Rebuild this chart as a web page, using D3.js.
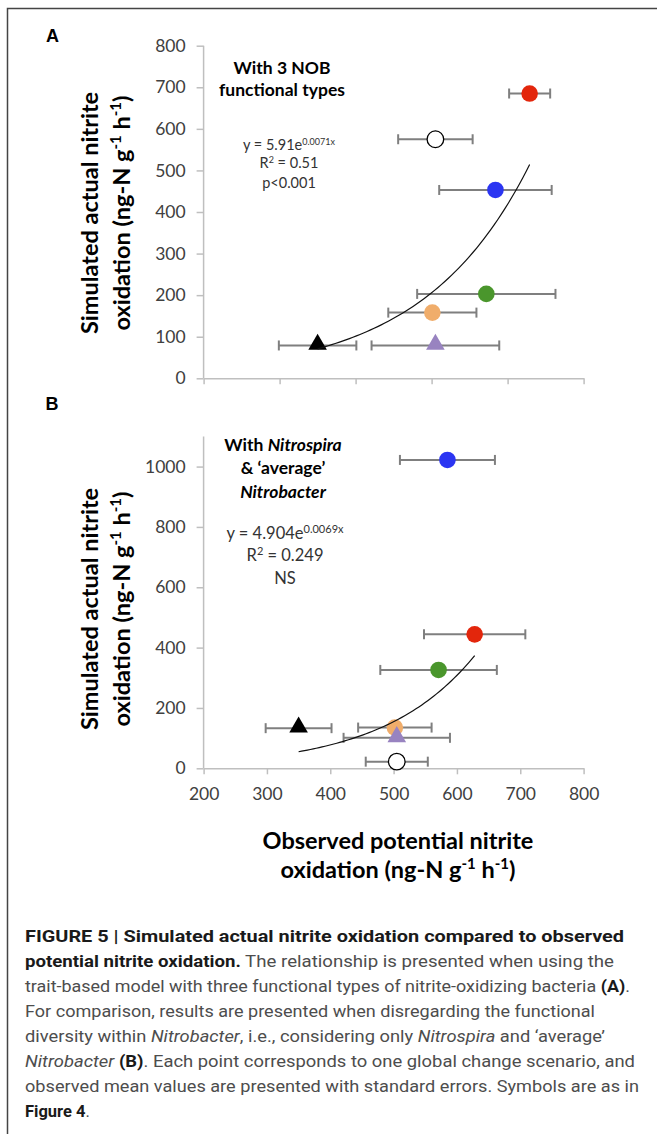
<!DOCTYPE html>
<html>
<head>
<meta charset="utf-8">
<script src="https://cdn.jsdelivr.net/npm/d3@7"></script>
<style>
  body { margin: 0; background: #fff; }
  svg { display: block; }
  .tick text { font-family: Lato, sans-serif; font-size: 17.5px; fill: #404040; }
</style>
</head>
<body>
<svg id="fig" width="657" height="1134"></svg>
<script>
// scenario symbols (same order in both panels)
const fills = ["#e3260c", "#ffffff", "#2b35f2", "#4a962c", "#f0ad6b", "#000000", "#9883c0"];
const shapes = ["circle", "circle", "circle", "circle", "circle", "triangle", "triangle"];

// panel A: three NOB functional types
const obsA = [629, 505, 584, 572, 501, 350, 505];
const errA = [27, 49, 74, 91, 58, 51, 84];
const simA = [685, 575, 453, 203, 158, 79, 79];
const fitA = [5.91, 0.0071];
const ticksYA = [0, 100, 200, 300, 400, 500, 600, 700, 800];
const ticksXA = [200, 300, 400, 500, 600, 700];

// panel B: Nitrospira & average Nitrobacter
const obsB = [628, 505, 585, 571, 502, 350, 505];
const errB = [80, 49, 75, 92, 58, 52, 84];
const simB = [444, 22, 1022, 326, 135, 133, 101];
const fitB = [4.904, 0.0069];
const ticksYB = [0, 200, 400, 600, 800, 1000];
const ticksXB = [200, 300, 400, 500, 600, 700, 800];

const svg = d3.select("#fig");

// frame
svg.append("path")
    .attr("d", "M7.5,1134 V8.5 H657")
    .attr("fill", "none")
    .attr("stroke", "#444")
    .attr("stroke-width", 1.5);

function panel(opt) {
    const x = d3.scaleLinear().domain(opt.xDomain).range([203.6, 583.6]);
    const y = d3.scaleLinear().domain(opt.yDomain).range(opt.yRange);
    const g = svg.append("g");

    const ya = g.append("g")
        .attr("transform", "translate(" + x.range()[0] + ",0)")
        .call(d3.axisLeft(y).tickValues(opt.ticksY).tickSize(7).tickPadding(11).tickSizeOuter(0)
            .tickFormat(d3.format("d")));
    const xa = g.append("g")
        .attr("transform", "translate(0," + y(0) + ")")
        .call(d3.axisBottom(x).tickValues(opt.ticksX).tickSize(6).tickPadding(13).tickSizeOuter(0)
            .tickFormat(opt.xLabels ? d3.format("d") : ""));
    g.selectAll(".domain, .tick line").attr("stroke", "#bfbfbf").attr("stroke-width", 1.5);
    // y axis line reaches the top of the domain
    ya.select(".domain").attr("d", "M0," + y(opt.yDomain[1]) + "V" + y(0));

    // error bars
    const bars = g.selectAll(".err").data(opt.obs).enter().append("g")
        .attr("stroke", "#7f7f7f").attr("stroke-width", 2);
    bars.append("line")
        .attr("x1", (d, i) => x(d - opt.err[i])).attr("x2", (d, i) => x(d + opt.err[i]))
        .attr("y1", (d, i) => y(opt.sim[i])).attr("y2", (d, i) => y(opt.sim[i]));
    bars.append("line")
        .attr("x1", (d, i) => x(d - opt.err[i])).attr("x2", (d, i) => x(d - opt.err[i]))
        .attr("y1", (d, i) => y(opt.sim[i]) - 5).attr("y2", (d, i) => y(opt.sim[i]) + 5);
    bars.append("line")
        .attr("x1", (d, i) => x(d + opt.err[i])).attr("x2", (d, i) => x(d + opt.err[i]))
        .attr("y1", (d, i) => y(opt.sim[i]) - 5).attr("y2", (d, i) => y(opt.sim[i]) + 5);

    // markers
    const circ = d3.symbol().type(d3.symbolCircle).size(Math.PI * 8.3 * 8.3);
    const tri = d3.symbol().type(d3.symbolTriangle).size(150);
    g.selectAll(".pt").data(opt.obs).enter().append("path")
        .attr("transform", (d, i) => "translate(" + x(d) + "," + (y(opt.sim[i]) + (shapes[i] === "triangle" ? -1 : 0)) + ")")
        .attr("d", (d, i) => shapes[i] === "triangle" ? tri() : circ())
        .attr("fill", (d, i) => fills[i])
        .attr("stroke", (d, i) => fills[i] === "#ffffff" ? "#000" : "none")
        .attr("stroke-width", 1.3);

    // exponential trendline between lowest and highest observed value
    const x0 = d3.min(opt.obs), x1 = d3.max(opt.obs);
    const xs = d3.range(0, 61).map(k => x0 + (x1 - x0) * k / 60);
    g.append("path")
        .datum(xs)
        .attr("fill", "none")
        .attr("stroke", "#111")
        .attr("stroke-width", 1.2)
        .attr("d", d3.line().x(d => x(d)).y(d => y(opt.fit[0] * Math.exp(opt.fit[1] * d))));

    // y axis title
    const yt = g.append("text")
        .attr("transform", "translate(0," + opt.yTitleMid + ") rotate(-90)")
        .attr("text-anchor", "middle")
        .attr("font-family", "Lato, sans-serif")
        .attr("font-weight", "bold")
        .attr("font-size", 23.5)
        .attr("fill", "#000");
    yt.append("tspan").attr("x", 0).attr("y", 98).text("Simulated actual nitrite");
    const l2 = yt.append("tspan").attr("x", 0).attr("y", 129.5);
    l2.append("tspan").text("oxidation (ng-N g");
    l2.append("tspan").attr("dy", -9).attr("font-size", 15).text("-1");
    l2.append("tspan").attr("dy", 9).text(" h");
    l2.append("tspan").attr("dy", -9).attr("font-size", 15).text("-1");
    l2.append("tspan").attr("dy", 9).text(")");

    return g;
}

const gA = panel({
    xDomain: [200, 700], yDomain: [0, 800], yRange: [378.3, 45.7],
    ticksX: ticksXA, ticksY: ticksYA, xLabels: false,
    obs: obsA, err: errA, sim: simA, fit: fitA, yTitleMid: 213
});
const gB = panel({
    xDomain: [200, 800], yDomain: [0, 1100], yRange: [768.3, 436.4],
    ticksX: ticksXB, ticksY: ticksYB, xLabels: true,
    obs: obsB, err: errB, sim: simB, fit: fitB, yTitleMid: 609
});

// panel letters
svg.append("text").attr("x", 46).attr("y", 42).text("A")
    .attr("font-family", "Liberation Sans, Arial, sans-serif").attr("font-weight", "bold").attr("font-size", 18);
svg.append("text").attr("x", 45.5).attr("y", 410).text("B")
    .attr("font-family", "Liberation Sans, Arial, sans-serif").attr("font-weight", "bold").attr("font-size", 18);

// panel A annotations
const titleA = svg.append("text").attr("text-anchor", "middle")
    .attr("font-family", "Lato, sans-serif").attr("font-weight", "bold").attr("font-size", 17.5);
titleA.append("tspan").attr("x", 282).attr("y", 74).text("With 3 NOB");
titleA.append("tspan").attr("x", 282).attr("y", 96).text("functional types");

const eqA = svg.append("text").attr("text-anchor", "middle")
    .attr("font-family", "Lato, sans-serif").attr("font-size", 14.5).attr("fill", "#333");
const eqA1 = eqA.append("tspan").attr("x", 289).attr("y", 150);
eqA1.append("tspan").text("y = 5.91e");
eqA1.append("tspan").attr("dy", -5).attr("font-size", 9).text("0.0071x");
const eqA2 = eqA.append("tspan").attr("x", 289).attr("y", 168);
eqA2.append("tspan").text("R");
eqA2.append("tspan").attr("dy", -5).attr("font-size", 9).text("2");
eqA2.append("tspan").attr("dy", 5).text(" = 0.51");
eqA.append("tspan").attr("x", 289).attr("y", 188).text("p<0.001");

// panel B annotations
const titleB = svg.append("text").attr("text-anchor", "middle")
    .attr("font-family", "Lato, sans-serif").attr("font-weight", "bold").attr("font-size", 17.5);
const tb1 = titleB.append("tspan").attr("x", 283).attr("y", 451);
tb1.append("tspan").text("With ");
tb1.append("tspan").attr("font-style", "italic").text("Nitrospira");
titleB.append("tspan").attr("x", 283).attr("y", 474).text("& \u2018average\u2019");
titleB.append("tspan").attr("x", 283).attr("y", 498).attr("font-style", "italic").text("Nitrobacter");

const eqB = svg.append("text").attr("text-anchor", "middle")
    .attr("font-family", "Lato, sans-serif").attr("font-size", 16.5).attr("fill", "#333");
const eqB1 = eqB.append("tspan").attr("x", 285).attr("y", 539);
eqB1.append("tspan").text("y = 4.904e");
eqB1.append("tspan").attr("dy", -6).attr("font-size", 11).text("0.0069x");
const eqB2 = eqB.append("tspan").attr("x", 285).attr("y", 561);
eqB2.append("tspan").text("R");
eqB2.append("tspan").attr("dy", -6).attr("font-size", 11).text("2");
eqB2.append("tspan").attr("dy", 6).text(" = 0.249");
eqB.append("tspan").attr("x", 285).attr("y", 584).text("NS");

// x axis title
const xt = svg.append("text").attr("text-anchor", "middle")
    .attr("font-family", "Lato, sans-serif").attr("font-weight", "bold").attr("font-size", 23.5);
xt.append("tspan").attr("x", 398).attr("y", 849).text("Observed potential nitrite");
const xt2 = xt.append("tspan").attr("x", 398).attr("y", 878);
xt2.append("tspan").text("oxidation (ng-N g");
xt2.append("tspan").attr("dy", -9).attr("font-size", 15).text("-1");
xt2.append("tspan").attr("dy", 9).text(" h");
xt2.append("tspan").attr("dy", -9).attr("font-size", 15).text("-1");
xt2.append("tspan").attr("dy", 9).text(")");

// caption: each line is a list of [text, style] runs, with its width in the original
const captionLines = [
    [[["FIGURE 5 | Simulated actual nitrite oxidation compared to observed", "b"]], 599],
    [[["potential nitrite oxidation.", "b"], [" The relationship is presented when using the", "r"]], 589],
    [[["trait-based model with three functional types of nitrite-oxidizing bacteria ", "r"], ["(A)", "b"], [".", "r"]], 605],
    [[["For comparison, results are presented when disregarding the functional", "r"]], 570],
    [[["diversity within ", "r"], ["Nitrobacter", "i"], [", i.e., considering only ", "r"], ["Nitrospira", "i"], [" and \u2018average\u2019", "r"]], 580],
    [[["Nitrobacter", "i"], [" ", "r"], ["(B)", "b"], [". Each point corresponds to one global change scenario, and", "r"]], 610],
    [[["observed mean values are presented with standard errors. Symbols are as in", "r"]], 614],
    [[["Figure 4", "b"], [".", "r"]], 0]
];
captionLines.forEach((line, k) => {
    const t = svg.append("text")
        .attr("x", 25).attr("y", 942 + k * 25)
        .attr("font-family", "Roboto, sans-serif").attr("font-size", 16.5);
    line[0].forEach(run => {
        t.append("tspan").text(run[0])
            .attr("font-weight", run[1] === "b" ? "bold" : null)
            .attr("font-style", run[1] === "i" ? "italic" : null)
            .attr("fill", run[1] === "b" ? "#1a1a1a" : "#4d4d4d");
    });
    if (line[1]) t.attr("textLength", line[1]).attr("lengthAdjust", "spacingAndGlyphs");
});
</script>
</body>
</html>
